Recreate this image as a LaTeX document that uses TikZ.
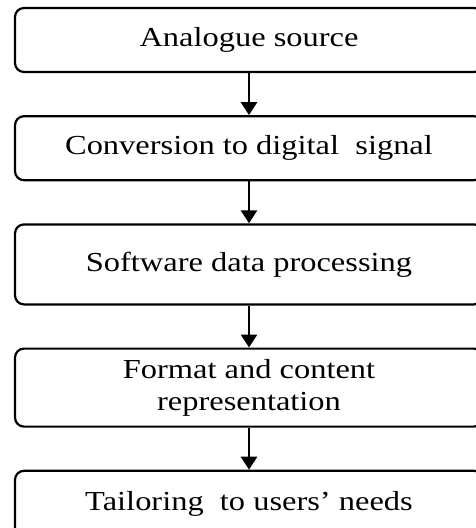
\documentclass[tikz,border=0pt]{standalone}
\usepackage{fontspec}
\setmainfont{Liberation Serif}[FakeStretch=1.18]
\usetikzlibrary{arrows.meta,positioning}

\begin{document}
\begin{tikzpicture}[x=1pt,y=-1pt,->,>={Triangle[width=16pt,length=13pt]},node distance=42pt,
                    stage box/.style={rectangle,rounded corners=9pt,draw,line width=2.2pt,
                    minimum width=468pt,inner sep=0pt,align=center,
                    font=\fontsize{27.5}{32}\selectfont}]

  \useasboundingbox (0,0) rectangle (476,528);

  \node[stage box,minimum height=64pt] (src) at (249,40) {Analogue source};
  \node[stage box,minimum height=64pt,below=of src] (conv) {Conversion to digital~ signal};
  \node[stage box,minimum height=80pt,below=of conv] (proc) {Software data processing};
  \node[stage box,minimum height=78pt,below=of proc] (fmt) {Format and content\\representation};
  \node[stage box,minimum height=66pt,below=of fmt] (tail) {Tailoring~ to users’ needs};

  \path[line width=2.8pt]
    (src) edge (conv)
    (conv) edge (proc)
    (proc) edge (fmt)
    (fmt) edge (tail);
\end{tikzpicture}
\end{document}
